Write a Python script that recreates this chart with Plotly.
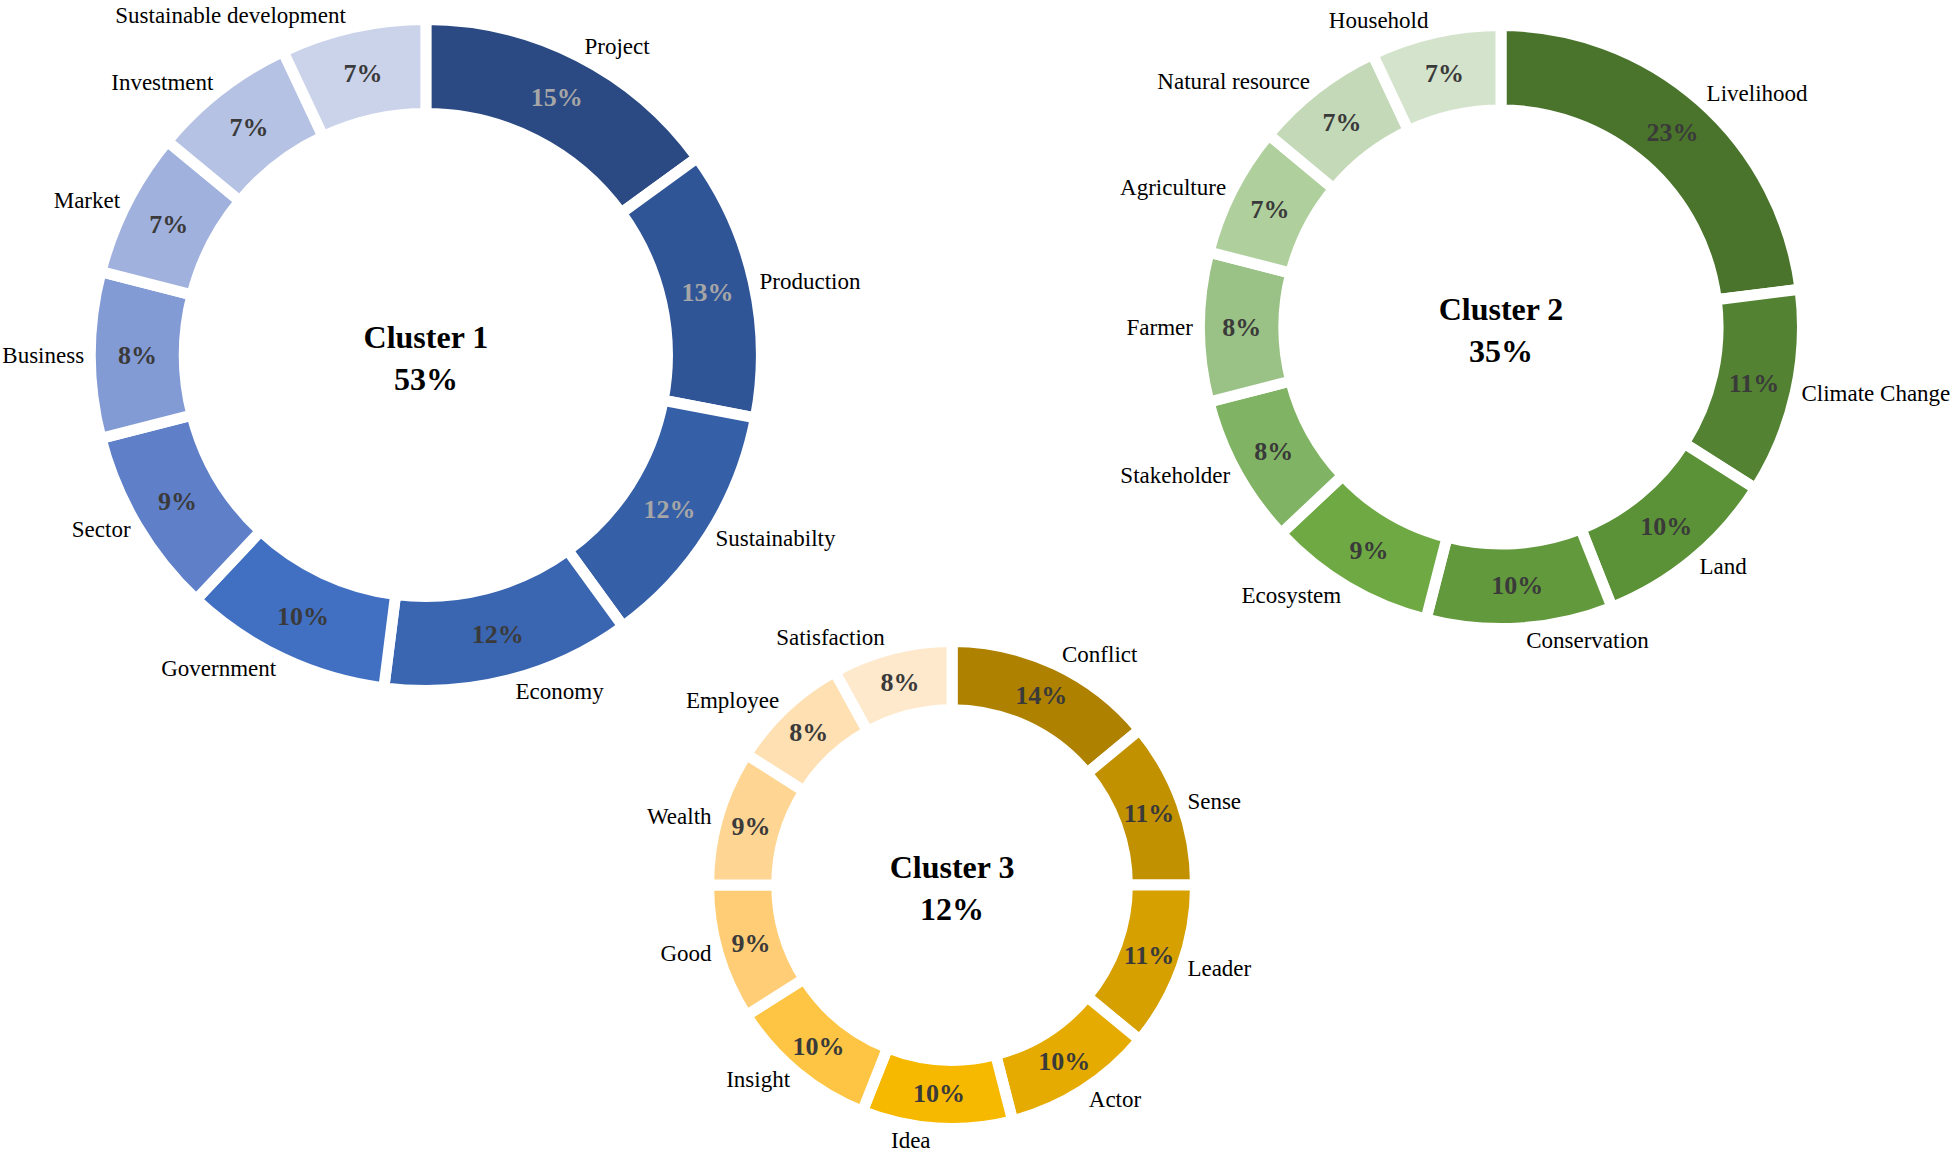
import plotly.graph_objects as go

# Cluster 1
c1_labels = ["Project", "Production", "Sustainabilty", "Economy", "Government",
             "Sector", "Business", "Market", "Investment", "Sustainable development"]
c1_values = [15, 13, 12, 12, 10, 9, 8, 7, 7, 7]
c1_colors = ["#2b4a83", "#2f5597", "#3560a8", "#3a66b1", "#4170c2",
             "#5f80c8", "#839bd5", "#a0b1dd", "#b5c2e3", "#cbd3ea"]
c1_textcol = ["#a6a6a6", "#a6a6a6", "#a6a6a6"] + ["#3a3a3a"] * 7
c1_total = "53%"

# Cluster 2
c2_labels = ["Livelihood", "Climate Change", "Land", "Conservation", "Ecosystem",
             "Stakeholder", "Farmer", "Agriculture", "Natural resource", "Household"]
c2_values = [23, 11, 10, 10, 9, 8, 8, 7, 7, 7]
c2_colors = ["#4a742c", "#538233", "#5b9137", "#62993c", "#6ea944",
             "#80b363", "#9bc286", "#afd09d", "#c3d9b7", "#d4e3cb"]
c2_textcol = ["#3a3a3a"] * 10
c2_total = "35%"

# Cluster 3
c3_labels = ["Conflict", "Sense", "Leader", "Actor", "Idea",
             "Insight", "Good", "Wealth", "Employee", "Satisfaction"]
c3_values = [14, 11, 11, 10, 10, 10, 9, 9, 8, 8]
c3_colors = ["#ae8200", "#c29100", "#d6a000", "#e6ab00", "#f6b900",
             "#fdc543", "#fecd76", "#fed592", "#fee0b3", "#fee9cc"]
c3_textcol = ["#3a3a3a"] * 10
c3_total = "12%"

FONT = "Palatino Linotype, Book Antiqua, Palatino, Liberation Serif, serif"

clusters = [
    ("Cluster 1", c1_labels, c1_values, c1_colors, c1_textcol, c1_total,
     [0.0461, 0.3887], [0.4027, 0.9831]),
    ("Cluster 2", c2_labels, c2_values, c2_colors, c2_textcol, c2_total,
     [0.6123, 0.9201], [0.4563, 0.9779]),
    ("Cluster 3", c3_labels, c3_values, c3_colors, c3_textcol, c3_total,
     [0.3617, 0.6103], [0.0239, 0.4451]),
]

fig = go.Figure()
for name, labels, values, colors, tcol, total, dx, dy in clusters:
    # coloured ring with the percentages inside
    fig.add_trace(go.Pie(
        labels=labels, values=values, hole=0.72, sort=False,
        direction="clockwise", rotation=0, automargin=False,
        domain=dict(x=dx, y=dy),
        marker=dict(colors=colors, line=dict(color="white", width=11)),
        texttemplate="<b>%{value}%</b>", textposition="inside",
        insidetextorientation="horizontal",
        textfont=dict(family=FONT, size=26, color=tcol),
        title=dict(text=f"<b>{name}</b><br><b>{total}</b>", position="middle center",
                   font=dict(family=FONT, size=32, color="black")),
        hoverinfo="label+percent",
    ))
    # transparent copy carrying the category names outside
    fig.add_trace(go.Pie(
        labels=labels, values=values, hole=0.72, sort=False,
        direction="clockwise", rotation=0, automargin=False,
        domain=dict(x=dx, y=dy),
        marker=dict(colors=["rgba(0,0,0,0)"] * len(values), line=dict(width=0)),
        textinfo="label", textposition="outside",
        textfont=dict(family=FONT, size=23, color="black"),
        hoverinfo="skip",
    ))

fig.update_layout(
    width=1959, height=1156,
    margin=dict(l=0, r=0, t=0, b=0, autoexpand=False),
    paper_bgcolor="white", plot_bgcolor="white",
    showlegend=False,
)

# drop the page's default body margin so the figure starts at the window corner
fig.write_html("out.html", config={"displayModeBar": False},
               post_script="document.body.style.margin='0';")
